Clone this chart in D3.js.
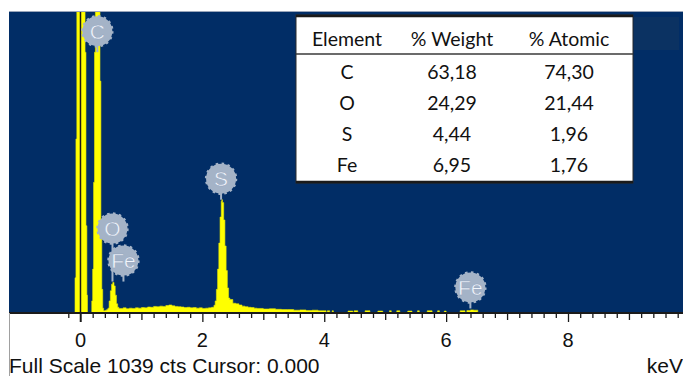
<!DOCTYPE html>
<html>
<head>
<meta charset="utf-8">
<script src="https://cdn.jsdelivr.net/npm/d3@7"></script>
<style>
  html, body { margin: 0; padding: 0; background: #ffffff; }
  svg { display: block; }
</style>
</head>
<body>
<svg id="chart" width="683" height="376"></svg>
<script>
// EDS spectrum: energy channels (keV) and counts; each count holds until the next energy
const energyKeV = [
  -0.11, -0.09, -0.075, -0.06, 0.075, 0.09, 0.105, 0.115,
  0.185, 0.20, 0.215, 0.23, 0.245, 0.32, 0.335, 0.35, 0.365, 0.38, 0.41, 0.43,
  0.45, 0.47, 0.49, 0.51, 0.53, 0.55, 0.57, 0.59, 0.61, 0.63,
  0.65, 0.70, 0.75, 0.80, 0.85, 0.90, 0.95, 1.00, 1.05, 1.10, 1.15, 1.20, 1.25, 1.30,
  1.35, 1.40, 1.45, 1.50, 1.55, 1.60, 1.65, 1.70, 1.75, 1.80, 1.85, 1.90, 1.95, 2.00,
  2.05, 2.10, 2.15, 2.19,
  2.21, 2.23, 2.25, 2.27, 2.29, 2.31, 2.32, 2.33, 2.35, 2.37, 2.39, 2.41, 2.43, 2.45,
  2.50, 2.55, 2.60, 2.65, 2.70, 2.75, 2.80, 2.85, 2.90, 3.00, 3.10, 3.20, 3.30, 3.40,
  3.50, 3.60, 3.70, 3.80, 3.90, 4.00, 4.03,
  4.05, 4.09, 4.13, 4.15, 4.39, 4.47, 4.49, 4.55, 4.67, 4.75, 4.88, 4.96, 5.07, 5.10,
  5.19, 5.24, 5.37, 5.44, 5.53, 5.56, 5.69, 5.77, 5.86, 5.89, 5.97, 6.00, 6.23, 6.31,
  6.34, 6.40, 6.45, 6.52, 9.90
];
const counts = [
  0, 120, 600, 3000, 900, 300, 60, 0,
  40, 150, 450, 900, 3000, 800, 300, 80, 15, 6, 8, 10,
  15, 40, 75, 98, 104, 92, 60, 30, 18, 14,
  14, 16, 13, 15, 14, 16, 15, 17, 16, 19, 18, 21, 20, 22,
  21, 24, 26, 23, 21, 20, 19, 17, 18, 16, 17, 15, 16, 14,
  15, 16, 18, 25,
  40, 80, 150, 240, 330, 385, 390, 380, 320, 230, 145, 85, 50, 45,
  32, 30, 26, 22, 20, 18, 17, 15, 14, 12, 13, 11, 10, 10,
  8, 9, 7, 8, 6, 6, 0,
  6, 0, 6, 0, 5, 0, 6, 0, 6, 0, 5, 0, 6, 0,
  6, 0, 5, 0, 6, 0, 6, 0, 6, 0, 5, 0, 6, 0,
  7, 9, 8, 0, 0
];

// Peak identification markers
const markerElements = ["C", "O", "Fe", "S", "Fe"];
const markerEnergy   = [0.277, 0.525, 0.705, 2.307, 6.398];
const markerCounts   = [900, 107, 107, 390, 14];

// Quantification table
const tableHeader   = ["Element", "% Weight", "% Atomic"];
const tableElements = ["C", "O", "S", "Fe"];
const weightPct     = [63.18, 24.29, 4.44, 6.95];
const atomicPct     = [74.30, 21.44, 1.96, 1.76];

// Axis
const tickLabelValues = [0, 2, 4, 6, 8];
const fullScaleCts = 1039;
const cursorKeV = 0;

const svg = d3.select("#chart");
const W = 683, H = 376;
const plot = { left: 9, top: 12, right: 683, axisY: 313 };

const x = d3.scaleLinear().domain([-1.173, 9.887]).range([plot.left, plot.right]);
const y = d3.scaleLinear().domain([0, fullScaleCts]).range([plot.axisY - 0.5, plot.top]).clamp(true);

// plot background
svg.append("rect")
  .attr("x", plot.left).attr("y", plot.top)
  .attr("width", plot.right - plot.left).attr("height", plot.axisY - plot.top)
  .attr("fill", "#012d66");
svg.append("line")
  .attr("x1", plot.left).attr("x2", plot.right)
  .attr("y1", plot.top - 0.5).attr("y2", plot.top - 0.5)
  .attr("stroke", "#9aa6ba").attr("stroke-width", 1);
svg.append("rect")
  .attr("x", 634).attr("y", 17).attr("width", 45).attr("height", 33)
  .attr("fill", "#0b3262");

svg.append("clipPath").attr("id", "plotClip")
  .append("rect")
  .attr("x", plot.left).attr("y", plot.top)
  .attr("width", plot.right - plot.left).attr("height", plot.axisY - plot.top);

// spectrum
const spectrum = energyKeV.map((e, i) => ({ e, c: counts[i] }));
const area = d3.area()
  .curve(d3.curveStepAfter)
  .x(d => x(d.e))
  .y0(y(0))
  .y1(d => y(d.c));
svg.append("path")
  .datum(spectrum)
  .attr("clip-path", "url(#plotClip)")
  .attr("d", area)
  .attr("fill", "#ffff00")
  .attr("stroke", "#e8e800")
  .attr("stroke-width", 0.6);

// cursor line
svg.append("line")
  .attr("x1", x(cursorKeV)).attr("x2", x(cursorKeV))
  .attr("y1", plot.top).attr("y2", plot.axisY + 9)
  .attr("stroke", "#1a1a1a").attr("stroke-width", 1.5);

// axis line and ticks
svg.append("line")
  .attr("x1", plot.left).attr("x2", plot.right)
  .attr("y1", plot.axisY).attr("y2", plot.axisY)
  .attr("stroke", "#1b1b1b").attr("stroke-width", 2);
svg.append("line")
  .attr("x1", plot.left + 0.5).attr("x2", plot.left + 0.5)
  .attr("y1", plot.axisY).attr("y2", H)
  .attr("stroke", "#a0a0a0").attr("stroke-width", 1);

const minorTicks = d3.range(-1, 50).map(i => +(i * 0.2).toFixed(1)).filter(v => !Number.isInteger(v));
const oddTicks = d3.range(1, 10, 2);
function tickAxis(values, size) {
  const g = svg.append("g")
    .attr("transform", `translate(0,${plot.axisY})`)
    .call(d3.axisBottom(x).tickValues(values).tickSize(size).tickSizeOuter(0).tickFormat(""));
  g.select(".domain").remove();
  g.selectAll(".tick line").attr("stroke", "#1b1b1b").attr("stroke-width", 1.3);
  return g;
}
tickAxis(minorTicks, 5);
tickAxis(oddTicks, 7);
tickAxis(tickLabelValues, 9);

const axisFont = "Liberation Sans, Arial, sans-serif";
svg.append("g").selectAll("text")
  .data(tickLabelValues)
  .join("text")
  .attr("x", d => x(d))
  .attr("y", 347)
  .attr("text-anchor", "middle")
  .attr("font-family", axisFont)
  .attr("font-size", 20)
  .attr("fill", "#111")
  .text(d => d);

svg.append("text")
  .attr("x", 9).attr("y", 373)
  .attr("font-family", axisFont)
  .attr("font-size", 21)
  .attr("fill", "#111")
  .text(`Full Scale ${fullScaleCts} cts Cursor: ${cursorKeV.toFixed(3)}`);
svg.append("text")
  .attr("x", 683).attr("y", 373)
  .attr("text-anchor", "end")
  .attr("font-family", axisFont)
  .attr("font-size", 21)
  .attr("fill", "#111")
  .text("keV");

// markers: circle above stem; overlapping circles are lifted above their neighbour
const R = 15, STEM = 6;
const markers = markerElements.map((el, i) => ({
  el, px: x(markerEnergy[i]), stemY: y(markerCounts[i])
}));
markers.forEach(m => { m.cy = m.stemY - STEM - R; });
for (let i = markers.length - 2; i >= 0; i--) {
  const a = markers[i], b = markers[i + 1];
  if (Math.abs(a.px - b.px) < 2 * R && a.cy > b.cy - 2 * R - 2) {
    a.cy = b.cy - 2 * R - 2;
  }
}
const mg = svg.append("g").selectAll("g").data(markers).join("g");
mg.append("line")
  .attr("x1", d => d.px).attr("x2", d => d.px)
  .attr("y1", d => d.cy + R - 1).attr("y2", d => Math.max(d.stemY, d.cy + R + STEM))
  .attr("stroke", "#a4b3c7").attr("stroke-width", 2);
mg.append("circle")
  .attr("cx", d => d.px).attr("cy", d => d.cy).attr("r", R)
  .attr("fill", "#a4b3c7")
  .attr("stroke", "#a4b3c7").attr("stroke-width", 2.4)
  .attr("stroke-dasharray", "2.5 3.4");
mg.append("text")
  .attr("x", d => d.px).attr("y", d => d.cy + 7.5)
  .attr("text-anchor", "middle")
  .attr("font-family", axisFont)
  .attr("font-size", 21)
  .attr("fill", "#f2f6fc")
  .attr("stroke", "#8ea0bb").attr("stroke-width", 0.4)
  .text(d => d.el);

// quantification table
const tbl = { x: 296, y: 15, w: 337, h: 168 };
const colX = [347, 452, 569];
const headerY = 46, rowY0 = 79, rowStep = 31;
const fmt = v => d3.format(".2f")(v).replace(".", ",");
const tg = svg.append("g");
tg.append("rect")
  .attr("x", tbl.x).attr("y", tbl.y).attr("width", tbl.w).attr("height", tbl.h)
  .attr("fill", "#ffffff").attr("stroke", "#2a2a2a").attr("stroke-width", 1);
tg.append("line").attr("x1", tbl.x).attr("x2", tbl.x + tbl.w)
  .attr("y1", tbl.y + 1).attr("y2", tbl.y + 1).attr("stroke", "#1a1a1a").attr("stroke-width", 2.5);
tg.append("line").attr("x1", tbl.x).attr("x2", tbl.x + tbl.w)
  .attr("y1", tbl.y + tbl.h - 1).attr("y2", tbl.y + tbl.h - 1).attr("stroke", "#1a1a1a").attr("stroke-width", 2.5);
tg.append("line").attr("x1", tbl.x).attr("x2", tbl.x + tbl.w)
  .attr("y1", 54).attr("y2", 54).attr("stroke", "#3a3a3a").attr("stroke-width", 1.6);

const textStyle = sel => sel
  .attr("text-anchor", "middle")
  .attr("font-family", "Lato, 'Open Sans', sans-serif")
  .attr("font-size", 19.5)
  .attr("fill", "#111");
tg.selectAll("text.h").data(tableHeader).join("text").attr("class", "h")
  .attr("x", (d, i) => colX[i]).attr("y", headerY).call(textStyle).text(d => d);
const rows = tableElements.map((el, i) => [el, fmt(weightPct[i]), fmt(atomicPct[i])]);
rows.forEach((r, ri) => {
  tg.selectAll(`text.r${ri}`).data(r).join("text").attr("class", `r${ri}`)
    .attr("x", (d, i) => colX[i]).attr("y", rowY0 + ri * rowStep).call(textStyle).text(d => d);
});
</script>
</body>
</html>
